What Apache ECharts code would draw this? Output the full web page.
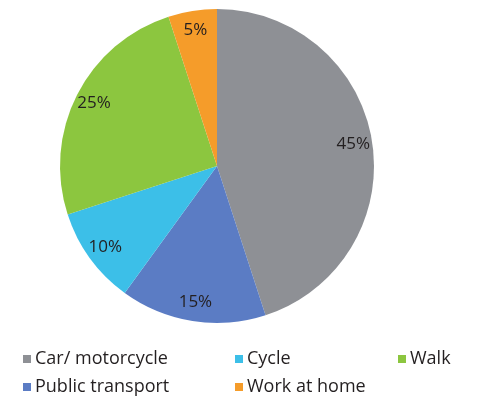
<!DOCTYPE html>
<html>
<head>
<meta charset="utf-8">
<script src="https://cdn.jsdelivr.net/npm/echarts@6/dist/echarts.min.js"></script>
<style>
  html, body { margin: 0; padding: 0; background: #fff; }
  #chart { width: 478px; height: 406px; }
</style>
</head>
<body>
<div id="chart"></div>
<script>
// travel to work mode share
const categories = ['Car/ motorcycle', 'Public transport', 'Cycle', 'Walk', 'Work at home']
const shares = [45, 15, 10, 25, 5]
const colors = ['#8e9095', '#5b7cc4', '#3cbfe8', '#8cc63f', '#f59c2a']

const pieData = categories.map((name, i) => ({
  name: name,
  value: shares[i],
  itemStyle: { color: colors[i] }
}))

const chart = echarts.init(document.getElementById('chart'))

const legendText = { fontFamily: 'Open Sans', fontSize: 18, color: '#231f20', padding: [0, 0, 0, -1] }
const legendBase = {
  orient: 'vertical',
  top: 345,
  itemWidth: 8,
  itemHeight: 8,
  itemGap: 10,
  icon: 'rect',
  textStyle: legendText,
  selectedMode: false
}

chart.setOption({
  animation: false,
  legend: [
    Object.assign({}, legendBase, { left: 18, data: ['Car/ motorcycle', 'Public transport'] }),
    Object.assign({}, legendBase, { left: 230, data: ['Cycle', 'Work at home'] }),
    Object.assign({}, legendBase, { left: 393, data: ['Walk'] })
  ],
  series: [
    {
      type: 'pie',
      center: [217, 166],
      radius: [0, 157],
      startAngle: 90,
      clockwise: true,
      silent: true,
      label: { show: false },
      labelLine: { show: false },
      data: pieData
    },
    {
      // invisible ring just to place the % labels further out
      type: 'pie',
      center: [217, 166],
      radius: [116, 154],
      startAngle: 90,
      clockwise: true,
      silent: true,
      itemStyle: { color: 'transparent' },
      label: {
        show: true,
        position: 'inside',
        formatter: '{c}%',
        fontFamily: 'Open Sans',
        fontSize: 17,
        color: '#231f20'
      },
      labelLine: { show: false },
      data: categories.map((name, i) => ({ name: name + ' ', value: shares[i] }))
    }
  ]
})
</script>
</body>
</html>
